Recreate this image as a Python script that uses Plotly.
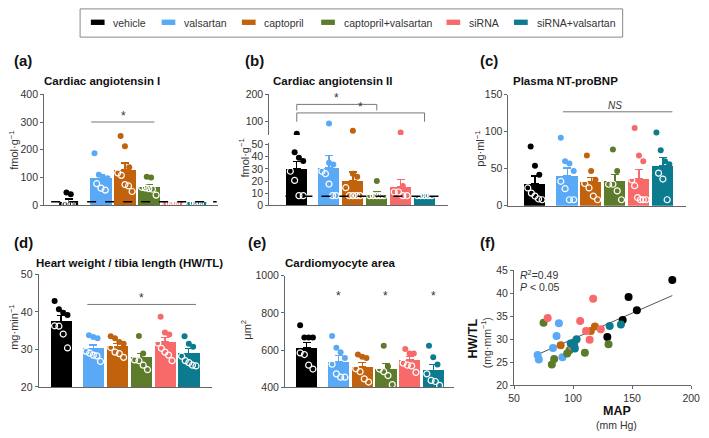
import numpy as np
import plotly.graph_objects as go

W, H = 709, 438

groups = ["vehicle", "valsartan", "captopril", "captopril+valsartan", "siRNA", "siRNA+valsartan"]
colors = ["#000000", "#5aa9f6", "#c2620c", "#5d7c2b", "#f86a6a", "#0d7b8f"]
pos = [0, 1.35, 2.35, 3.35, 4.35, 5.35]

# (a) cardiac angiotensin I, fmol/g
ang1_mean = [11, 97, 127, 66, 10, 10]
ang1_sem = [12, 15, 25, 9, 1, 1]
ang1_pts = [[46, 40, 5, 5, 5, 5, 5],
            [188, 110, 100, 98, 78, 62, 55],
            [250, 213, 137, 117, 108, 75, 70, 50],
            [103, 100, 65, 63, 60, 58, 37],
            [8, 8, 8, 8, 8],
            [8, 8, 8, 8, 8]]

# (b) cardiac angiotensin II, fmol/g
ang2_mean = [30, 31, 20.5, 9, 15, 8]
ang2_sem = [6, 10, 7, 2, 6, 0.5]
ang2_pts = [[56, 43.5, 39, 36.5, 28, 20.5, 8, 8],
            [94, 35, 33.5, 28, 26, 17.5, 8, 8],
            [67, 26, 23.5, 14.5, 8, 8, 8, 8],
            [20, 8, 8, 8, 8, 8],
            [61, 16, 11, 11, 8, 8],
            [8, 8, 8, 8, 8]]

# (c) plasma NT-proBNP, pg/ml
bnp_mean = [30, 41, 32, 33, 37, 54]
bnp_sem = [10, 10, 6, 9, 12, 11]
bnp_pts = [[80, 54, 42, 24, 17, 13, 9, 8],
           [92, 60, 57, 47, 33, 23, 8, 8],
           [68, 47, 35, 30, 24, 13, 8],
           [76, 47, 29, 29, 20, 8],
           [105, 68, 60, 35, 27, 11, 8, 8, 8],
           [99, 75, 60, 56, 44, 36, 8]]

# (d) HW/TL
hwtl_mean = [37.5, 30.3, 30.8, 27.8, 32.0, 29.0]
hwtl_sem = [1.5, 0.9, 0.8, 1.2, 1.1, 1.2]
hwtl_pts = [[42.9, 40.7, 39.8, 39.2, 36.3, 36.2, 34.1, 30.4],
            [33.8, 33.3, 33.0, 29.5, 29.0, 28.5, 28.3, 26.8],
            [33.5, 33.0, 32.0, 31.5, 30.5, 29.3, 28.9, 27.9],
            [33.6, 28.9, 27.2, 27.0, 25.8, 24.6],
            [38.7, 34.5, 34.0, 31.7, 30.3, 29.3, 28.5, 27.0],
            [33.5, 31.5, 30.7, 28.2, 27.0, 26.5, 25.8, 25.6]]

# (e) cardiomyocyte area, um^2
cma_mean = [611, 540, 512, 500, 547, 492]
cma_sem = [31, 31, 21, 27, 17, 32]
cma_pts = [[733, 667, 667, 667, 585, 576, 519, 498],
           [676, 613, 588, 557, 524, 472, 454, 454],
           [576, 564, 557, 500, 484, 445, 428],
           [623, 512, 498, 484, 463, 414],
           [606, 581, 581, 530, 519, 515, 480],
           [623, 562, 522, 472, 437, 431, 410]]

# (f) MAP vs HW/TL
map_vals = [[184, 147, 154, 142, 129],
            [88, 86, 83, 70, 71, 91],
            [89.5, 115, 118.5, 101],
            [75, 84, 82, 95, 97, 110, 130],
            [78.5, 117, 106, 111, 123.5, 114, 99],
            [98, 103, 101, 101.5, 131, 140.5]]
hw_vals = [[42.9, 39.2, 36.3, 34.2, 30.5],
           [33.5, 30.7, 28.1, 26.6, 25.6, 26.1],
           [28.7, 31.8, 32.8, 29.2],
           [33.6, 25.7, 24.5, 26.9, 27.6, 27.1, 28.9],
           [34.6, 38.8, 34.0, 31.8, 32.2, 29.9, 28.5],
           [29.1, 30.0, 28.5, 28.0, 32.9, 33.2]]
fit_map = [70, 184]
fit_hw = [26.7, 39.5]

AX = "#666666"
TXT = "#333333"
FONT = "Liberation Sans, Arial, sans-serif"
TICKSZ = 10.5


def fx(p):
    return p / W


def fy(p):
    return 1 - p / H


fig = go.Figure()
layout = {}


def make_x(i, xpx, xr, anchor_y, xticks=None):
    xs = "" if i == 1 else str(i)
    layout["xaxis" + xs] = dict(domain=[fx(xpx[0]), fx(xpx[1])], range=xr, anchor=anchor_y,
                                showline=True, linecolor=AX, linewidth=1, showgrid=False, zeroline=False,
                                showticklabels=xticks is not None, tickvals=xticks,
                                ticks="outside" if xticks else "", ticklen=3, tickcolor=AX,
                                tickfont=dict(size=TICKSZ, color=TXT, family=FONT))


def make_y(name, xname, ypx, yr, yticks):
    layout[name] = dict(domain=[fy(ypx[1]), fy(ypx[0])], range=yr, anchor=xname,
                        showline=True, linecolor=AX, linewidth=1, showgrid=False, zeroline=False,
                        tickvals=yticks, ticks="outside", ticklen=3, tickcolor=AX,
                        tickfont=dict(size=TICKSZ, color=TXT, family=FONT))


def offsets(k):
    if k <= 1:
        return [0.0] * k
    w = min(0.3, 0.09 * (k - 1))
    return list(np.linspace(-w, w, k))


def add_bars(xa, ya, means, sems, pts, ya_hi=None, cut=None):
    for g in range(6):
        fig.add_trace(go.Bar(x=[pos[g]], y=[means[g]], width=0.9, marker=dict(color=colors[g], line=dict(width=0)),
                             error_y=dict(type="data", array=[sems[g]], arrayminus=[0], symmetric=False,
                                          color=colors[g], thickness=1.3, width=4),
                             xaxis=xa, yaxis=ya, showlegend=False))
    for g in range(6):
        filled = [v for v in pts[g] if v > means[g]]
        opened = [v for v in pts[g] if v <= means[g]]
        for vals, sym in ((filled, "f"), (opened, "o")):
            if not vals:
                continue
            xo = [pos[g] + o for o in offsets(len(vals))]
            if sym == "f":
                mk = dict(size=6, color=colors[g], line=dict(width=0))
            else:
                mk = dict(size=6, symbol="circle-open", color="white", line=dict(width=1.2, color="white"))
            if cut is not None:
                lo = [(x, v) for x, v in zip(xo, vals) if v <= cut]
                hi = [(x, v) for x, v in zip(xo, vals) if v > cut]
                if lo:
                    fig.add_trace(go.Scatter(x=[a for a, _ in lo], y=[b for _, b in lo], mode="markers",
                                             marker=mk, xaxis=xa, yaxis=ya, showlegend=False))
                if hi:
                    fig.add_trace(go.Scatter(x=[pos[g]] * len(hi), y=[b for _, b in hi], mode="markers",
                                             marker=mk, xaxis=xa, yaxis=ya_hi, showlegend=False))
            else:
                fig.add_trace(go.Scatter(x=xo, y=vals, mode="markers", marker=mk,
                                         xaxis=xa, yaxis=ya, showlegend=False))


# panel (a)
make_x(1, (39, 217), [-1.02, 6.25], "y")
make_y("yaxis", "x", (90.7, 205), [0, 400], [0, 100, 200, 300, 400])
add_bars("x", "y", ang1_mean, ang1_sem, ang1_pts)

# panel (b) broken axis
make_x(2, (269, 452), [-1.15, 6.35], "y2")
make_y("yaxis2", "x2", (140.7, 205), [0, 51.3], [0, 10, 20, 30, 40, 50])
make_y("yaxis3", "x2", (90.7, 132.7), [51.6, 200], [100, 200])
add_bars("x2", "y2", ang2_mean, ang2_sem, ang2_pts, ya_hi="y3", cut=51.3)

# panel (c)
make_x(3, (513.3, 695), [-1.11, 6.33], "y4")
make_y("yaxis4", "x3", (91.3, 205.3), [0, 150], [0, 50, 100, 150])
add_bars("x3", "y4", bnp_mean, bnp_sem, bnp_pts)

# panel (d)
make_x(4, (33.3, 210.7), [-0.94, 6.33], "y5")
make_y("yaxis5", "x4", (276, 391.7), [20, 50], [20, 30, 40, 50])
add_bars("x4", "y5", hwtl_mean, hwtl_sem, hwtl_pts)

# panel (e)
make_x(5, (285, 458), [-0.91, 6.24], "y6")
make_y("yaxis6", "x5", (277.3, 392), [400, 1000], [400, 600, 800, 1000])
add_bars("x5", "y6", cma_mean, cma_sem, cma_pts)

# panel (f)
make_x(6, (519, 700), [50, 200], "y7", xticks=[50, 100, 150, 200])
make_y("yaxis7", "x6", (271.7, 390), [20, 45], [20, 25, 30, 35, 40, 45])
fig.add_trace(go.Scatter(x=fit_map, y=fit_hw, mode="lines", line=dict(color="#555555", width=1),
                         xaxis="x6", yaxis="y7", showlegend=False))
for g in range(6):
    fig.add_trace(go.Scatter(x=map_vals[g], y=hw_vals[g], mode="markers",
                             marker=dict(size=8, color=colors[g]), xaxis="x6", yaxis="y7", showlegend=False))

shapes = []
ann = []
GR = "#777777"


def hline(xr, yr, x0, x1, y, dash=None, color=GR, width=1):
    shapes.append(dict(type="line", xref=xr, yref=yr, x0=x0, x1=x1, y0=y, y1=y,
                       line=dict(color=color, width=width, dash=dash)))


def star(xr, yr, x, y, text="*", italic=False):
    ann.append(dict(xref=xr, yref=yr, x=x, y=y, text=text, showarrow=False, yanchor="bottom",
                    yshift=-3 if not italic else -1,
                    font=dict(size=12 if not italic else 10, color=TXT, family=FONT)))


# reference dashed lines
shapes.append(dict(type="line", xref="x domain", yref="y", x0=0.04, x1=0.99, y0=13, y1=13,
                   line=dict(color="black", width=1.5, dash="dash")))
shapes.append(dict(type="line", xref="x2 domain", yref="y2", x0=0.09, x1=0.98, y0=7.5, y1=7.5,
                   line=dict(color="black", width=1.5, dash="dash")))

# significance marks
hline("x", "y", 0.94, 3.58, 300)
star("x", "y", 2.29, 300)
shapes.append(dict(type="path", xref="x2", yref="y3", path="M 0,141 L 0,163 L 3.35,163 L 3.35,141",
                   line=dict(color=GR, width=1)))
shapes.append(dict(type="path", xref="x2", yref="y3", path="M 0,100 L 0,132 L 5.35,132 L 5.35,100",
                   line=dict(color=GR, width=1)))
star("x2", "y3", 1.68, 163)
star("x2", "y3", 2.68, 132)
hline("x3", "y4", 1.17, 5.75, 127)
star("x3", "y4", 3.35, 127, text="<i>NS</i>", italic=True)
hline("x4", "y5", 1.1, 5.65, 42)
star("x4", "y5", 3.35, 42)
for p in (pos[1], pos[3], pos[5]):
    ann.append(dict(xref="x5", yref="y6", x=p, y=899, text="*", showarrow=False, yanchor="middle", yshift=-2,
                    font=dict(size=12, color=TXT, family=FONT)))


def ptext(x, y, text, size=11, bold=False, xanchor="center", angle=0, color=TXT):
    ann.append(dict(xref="paper", yref="paper", x=fx(x), y=fy(y), text=("<b>%s</b>" % text) if bold else text,
                    showarrow=False, xanchor=xanchor, yanchor="middle", textangle=angle,
                    font=dict(size=size, color=color, family=FONT)))


# panel labels
for lab, x, y in (("(a)", 6, 56), ("(b)", 242, 56), ("(c)", 482, 56),
                  ("(d)", 6, 243), ("(e)", 245, 243), ("(f)", 482, 243)):
    ptext(x, y, lab, size=15, bold=True, xanchor="left", color="#111111")

# titles
ptext(98, 77, "Cardiac angiotensin I", size=11.5, bold=True, color="#111111")
ptext(334, 77, "Cardiac angiotensin II", size=11.5, bold=True, color="#111111")
ptext(572, 77, "Plasma NT-proBNP", size=11.5, bold=True, color="#111111")
ptext(126, 264, "Heart weight / tibia length (HW/TL)", size=11.5, bold=True, color="#111111")
ptext(342, 264, "Cardiomyocyte area", size=11.5, bold=True, color="#111111")

# y labels
ptext(8, 148, "fmol·g<sup>−1</sup>", size=11, angle=-90)
ptext(243, 156, "fmol·g<sup>−1</sup>", size=11, angle=-90)
ptext(484, 147, "pg·ml<sup>−1</sup>", size=11, angle=-90)
ptext(8, 330, "mg·min<sup>−1</sup>", size=11, angle=-90)
ptext(245, 333, "μm<sup>2</sup>", size=11, angle=-90)
ptext(477, 342, "HW/TL", size=12.5, bold=True, angle=-90, color="#111111")
ptext(490, 346, "(mg·mm<sup>−1</sup>)", size=10.5, angle=-90)
ptext(624, 416, "MAP", size=12.5, bold=True, color="#111111")
ptext(624, 431, "(mm Hg)", size=10.5)
ptext(523, 276, "<i>R</i><sup>2</sup>=0.49", size=10.5, xanchor="left")
ptext(523, 289, "<i>P</i> < 0.05", size=10.5, xanchor="left")

# legend box
shapes.append(dict(type="rect", xref="paper", yref="paper", x0=fx(75.7), x1=fx(630), y0=fy(32), y1=fy(3),
                   line=dict(color="#888888", width=1), fillcolor="white", layer="below"))
leg_x = [86.7, 159, 241, 322, 450, 519]
for g in range(6):
    shapes.append(dict(type="rect", xref="paper", yref="paper", x0=fx(leg_x[g]), x1=fx(leg_x[g] + 14),
                       y0=fy(19.5), y1=fy(14), line=dict(width=0), fillcolor=colors[g]))
    ptext(leg_x[g] + 21, 17, groups[g], size=10.5, xanchor="left")

layout.update(dict(width=W, height=H, margin=dict(l=0, r=0, t=0, b=0), plot_bgcolor="white",
                   paper_bgcolor="white", shapes=shapes, annotations=ann, showlegend=False,
                   bargap=0, font=dict(family=FONT)))
fig.update_layout(**layout)
fig.write_html("out.html", config={"displayModeBar": False},
               post_script="document.body.style.margin='0';document.body.style.overflow='hidden';")
